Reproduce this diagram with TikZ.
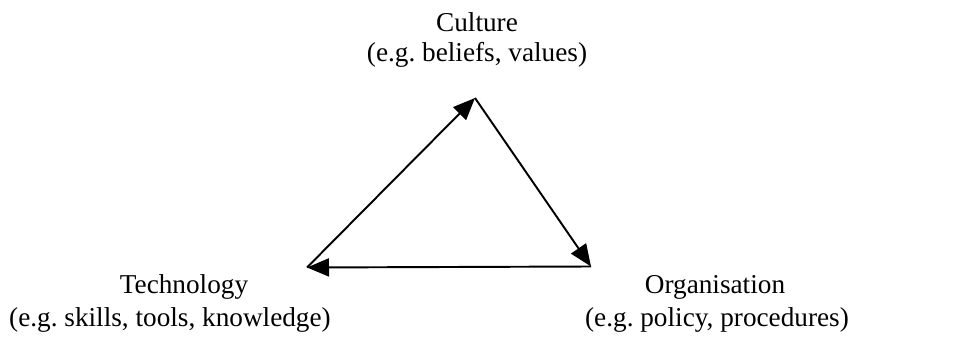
\documentclass[tikz,border=0pt]{standalone}
\usepackage{fontspec}
\setmainfont{Liberation Serif}
\usetikzlibrary{arrows.meta}

\tikzset{
    label/.style={inner sep=0pt, font=\fontsize{15.5}{18}\selectfont},
    link/.style={line width=1.1pt, -{Triangle[length=0.44cm, width=0.36cm]}}
}

\begin{document}
\frenchspacing
\begin{tikzpicture}
    % cornice (proporzioni del riferimento)
    \useasboundingbox (0, 0) rectangle (19.16, -6.76);

    % vertici del triangolo
    \coordinate (cult) at (9.50, -1.96);
    \coordinate (tech) at (6.14, -5.35);
    \coordinate (org) at (11.82, -5.33);

    % etichette
    \node[label] (culttitle) at (9.54, -0.44) {Culture};
    \node[label] (culteg) at (9.54, -1.10) {(e.g. beliefs, values)};
    \node[label] (techtitle) at (3.68, -5.74) {Technology};
    \node[label] (techeg) at (3.40, -6.40) {(e.g. skills, tools, knowledge)};
    \node[label] (orgtitle) at (14.30, -5.74) {Organisation};
    \node[label] (orgeg) at (14.34, -6.40) {(e.g. policy, procedures)};

    % archi del ciclo
    \draw[link] (tech) -- (cult);
    \draw[link] (cult) -- (org);
    \draw[link] (org) -- (tech);
\end{tikzpicture}
\end{document}
